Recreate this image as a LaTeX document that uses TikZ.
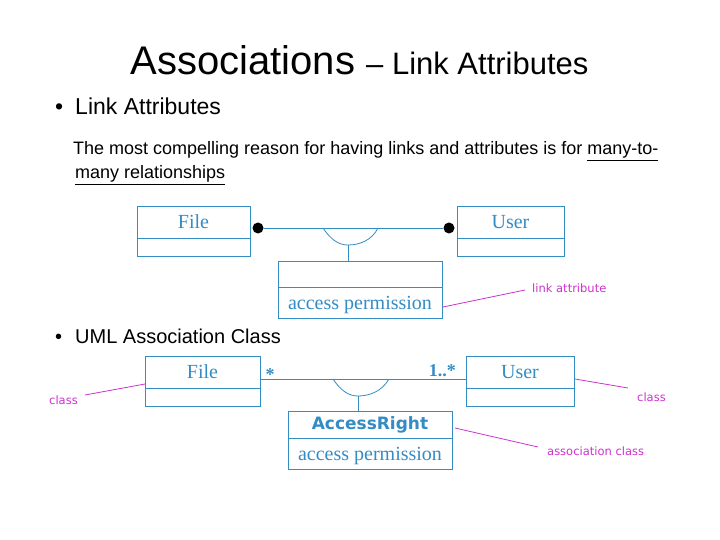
\documentclass[tikz,border=0pt]{standalone}
\usepackage{fontspec}
\setmainfont{Liberation Serif}
\setsansfont{Liberation Sans}
\newfontfamily\notefont{DejaVu Sans}
\usetikzlibrary{positioning,calc}
\definecolor{umlblue}{RGB}{52,140,196}
\definecolor{notepink}{RGB}{204,51,204}

\begin{document}
\begin{tikzpicture}[x=1pt,y=-1pt,
    cls/.style={draw=umlblue,text=umlblue,line width=0.8pt,inner sep=0pt,outer sep=0pt,
      font=\fontsize{20}{24}\selectfont},
    attr/.style={cls,text height=13pt,text depth=0pt},
    assoc/.style={draw=umlblue,line width=0.8pt},
    note/.style={text=notepink,inner sep=0pt,font=\notefont\fontsize{11.5}{14}\selectfont},
    noteline/.style={draw=notepink,line width=0.8pt},
    mult/.style={text=umlblue,inner sep=0pt,font=\bfseries\fontsize{18}{20}\selectfont},
    dot/.style={circle,fill=black,inner sep=0pt,minimum size=11pt},
    head/.style={anchor=base west,inner sep=0pt,font=\sffamily\fontsize{23}{26}\selectfont}]
  \useasboundingbox[fill=white] (0,0) rectangle (720,540);

  % title and text
  \node[anchor=base,inner sep=0pt,font=\sffamily] (title) at (359.5,75)
    {\fontsize{40}{44}\selectfont Associations \fontsize{31}{36}\selectfont -- Link Attributes};
  \node[head] (bulletA) at (55,115) {\textbullet\hspace{12pt}Link Attributes};
  \node[anchor=base west,inner sep=0pt,font=\sffamily\fontsize{18}{20}\selectfont] (reasonA) at (73,155)
    {The most compelling reason for having links and attributes is for \underline{many-to-}};
  \node[anchor=base west,inner sep=0pt,font=\sffamily\fontsize{18}{20}\selectfont] (reasonB) at (75,179)
    {\underline{many relationships}};
  \node[head,font=\sffamily\fontsize{20}{24}\selectfont] (bulletB) at (55,343) {\textbullet\hspace{13pt}UML Association Class};

  % link attribute
  \node[cls,minimum width=113pt,minimum height=32pt] (fileA) at (193.5,222) {File};
  \node[cls,minimum width=113pt,minimum height=18pt,below=0pt of fileA] (fileAattr) {};
  \node[cls,minimum width=107pt,minimum height=32pt] (userA) at (510.5,222) {User};
  \node[cls,minimum width=107pt,minimum height=18pt,below=0pt of userA] (userAattr) {};
  \node[cls,minimum width=164pt,minimum height=26pt] (linkA) at (360,274) {};
  \node[attr,minimum width=164pt,minimum height=31pt,below=0pt of linkA] (linkAattr) {access permission};

  \node[dot] (dotL) at ($(fileA.east)+(8,6)$) {};
  \node[dot] (dotR) at ($(userA.west)+(-8,6)$) {};
  \draw[assoc] (dotL) -- (dotR);
  \coordinate (joinA) at (348,245);
  \draw[assoc] (323,228) .. controls (331,240) and (339,245) .. (joinA)
    .. controls (360,245) and (372,240) .. (378,228);
  \draw[assoc] (joinA) -- (joinA |- linkA.north);

  \node[note,anchor=west] (noteLink) at (532,288) {link attribute};
  \draw[noteline] ($(linkAattr.east)+(1,4.5)$) -- ($(noteLink.west)+(-7,2)$);

  % association class
  \node[cls,minimum width=115pt,minimum height=32pt] (fileB) at (202.5,372) {File};
  \node[cls,minimum width=115pt,minimum height=18pt,below=0pt of fileB] (fileBattr) {};
  \node[cls,minimum width=108pt,minimum height=32pt] (userB) at (520,372) {User};
  \node[cls,minimum width=108pt,minimum height=18pt,below=0pt of userB] (userBattr) {};
  \node[cls,minimum width=164pt,minimum height=27pt,
    font=\notefont\bfseries\fontsize{17}{20}\selectfont] (rightA) at (370,424.5) {AccessRight};
  \node[attr,minimum width=164pt,minimum height=31pt,below=0pt of rightA] (rightAattr) {access permission};

  \draw[assoc] ($(fileB.east)+(0,7)$) -- ($(userB.west)+(0,7)$);
  \node[mult] (multFile) at (270,375) {*};
  \node[mult,anchor=east] (multUser) at (456,371) {1..*};
  \coordinate (joinB) at (358,396);
  \draw[assoc] (333,379) .. controls (341,391) and (349,396) .. (joinB)
    .. controls (370,396) and (382,391) .. (389,379);
  \draw[assoc] (joinB) -- (joinB |- rightA.north);

  \node[note] (noteClsL) at (63.5,400) {class};
  \draw[noteline] ($(noteClsL.east)+(7,-5)$) -- ($(fileB.south west)+(0,-4)$);
  \node[note,anchor=west] (noteClsR) at (637,397) {class};
  \draw[noteline] ($(userB.east)+(1,7)$) -- ($(noteClsR.west)+(-9,-9)$);
  \node[note,anchor=west] (noteAssoc) at (547,451.5) {association class};
  \draw[noteline] ($(rightA.east)+(3,3.5)$) -- ($(noteAssoc.west)+(-9,-4.5)$);
\end{tikzpicture}
\end{document}
